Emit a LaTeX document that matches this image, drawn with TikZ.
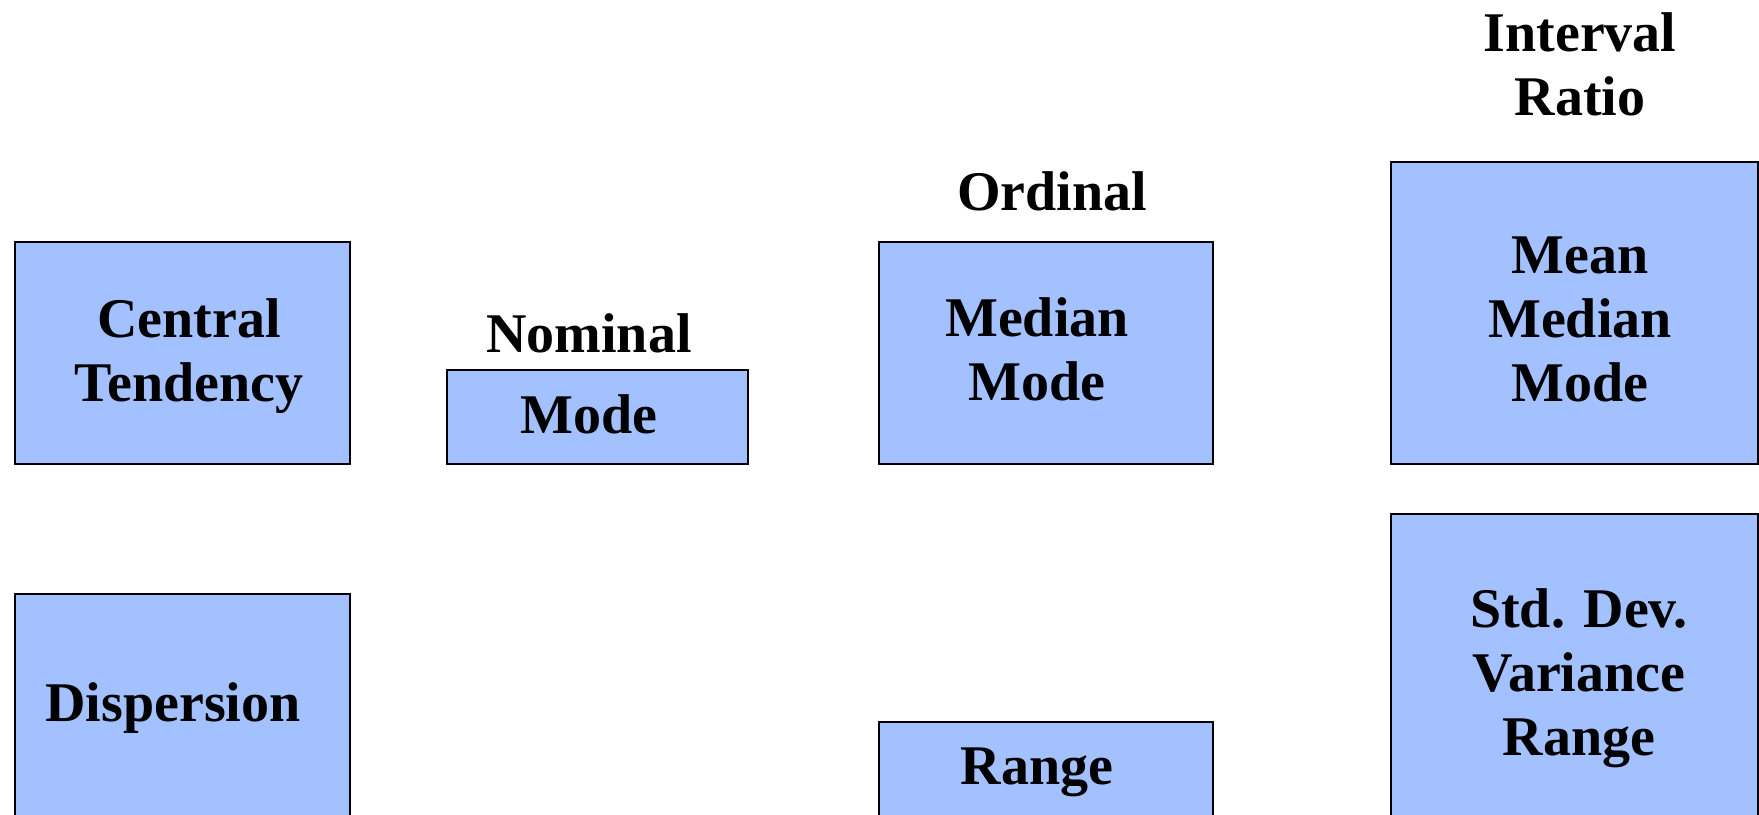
\documentclass[tikz,border=0pt]{standalone}
\usepackage{fontspec}
\setmainfont{Liberation Serif}
\definecolor{boxblue}{RGB}{163,192,255}
\begin{document}
\begin{tikzpicture}[x=1pt,y=-1pt,
  box/.style={draw=black, line width=2pt, fill=boxblue, inner sep=0pt, anchor=north west},
  lbl/.style={font=\fontsize{56}{64}\selectfont\bfseries, align=center, inner sep=0pt, anchor=center}]
\useasboundingbox (0,0) rectangle (1759,814);
\clip (0,0) rectangle (1759,814);
% boxes
\node[box, minimum width=335, minimum height=222] (ctbox) at (14,241) {};
\node[box, minimum width=301, minimum height=94] (nombox) at (446,369) {};
\node[box, minimum width=334, minimum height=222] (ordbox) at (878,241) {};
\node[box, minimum width=367, minimum height=302] (intbox) at (1390,161) {};
\node[box, minimum width=335, minimum height=260] (dispbox) at (14,593) {};
\node[box, minimum width=334, minimum height=130] (rngbox) at (878,721) {};
\node[box, minimum width=367, minimum height=340] (sdbox) at (1390,513) {};
% texts
\node[lbl] (ct) at (189,357) {\strut Central\\\strut Tendency};
\node[lbl] (nom) at (589,340) {\strut Nominal};
\node[lbl] (nommode) at (589,421) {\strut Mode};
\node[lbl] (ord) at (1052,198) {\strut Ordinal};
\node[lbl] (ordtxt) at (1037,356) {\strut Median\\\strut Mode};
\node[lbl] (int) at (1580,71) {\strut Interval\\\strut Ratio};
\node[lbl] (inttxt) at (1580,325) {\strut Mean\\\strut Median\\\strut Mode};
\node[lbl] (disp) at (173,709) {\strut Dispersion};
\node[lbl] (rng) at (1037,772) {\strut Range};
\node[lbl] (sdtxt) at (1579,679) {\strut Std. Dev.\\\strut Variance\\\strut Range};
\end{tikzpicture}
\end{document}
